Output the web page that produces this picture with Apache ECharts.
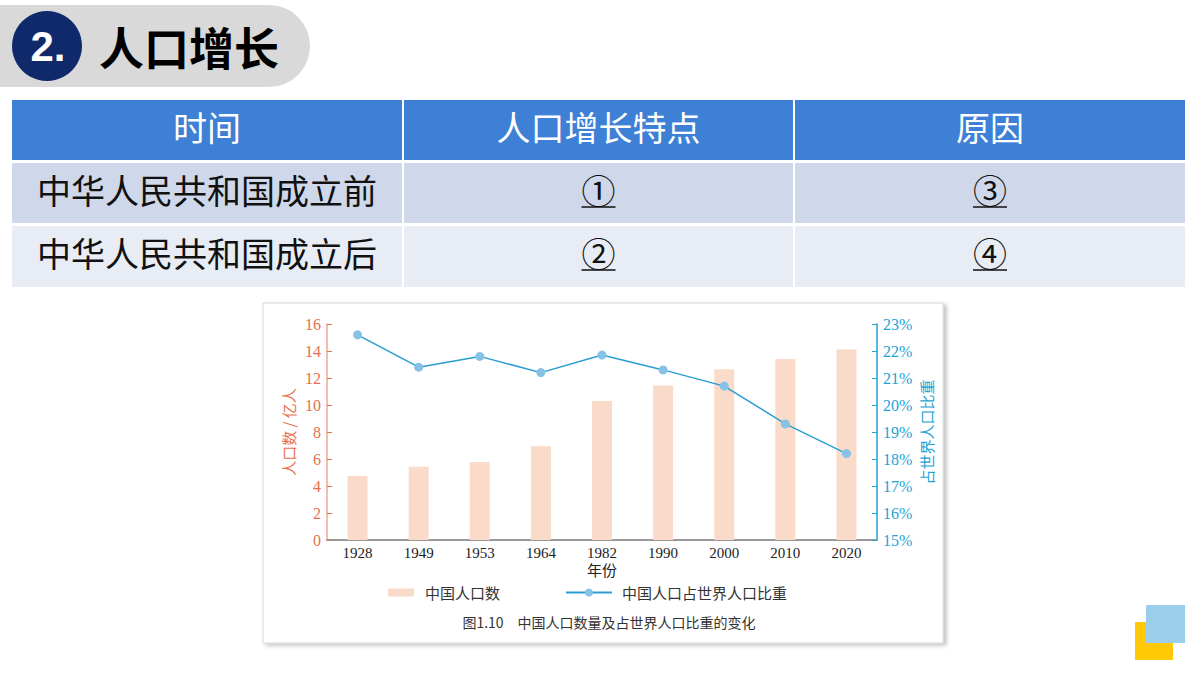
<!DOCTYPE html>
<html>
<head>
<meta charset="utf-8">
<script src="https://cdn.jsdelivr.net/npm/echarts@6/dist/echarts.min.js"></script>
<style>
html,body{margin:0;padding:0;background:#fff;}
#main{width:1200px;height:675px;}
</style>
</head>
<body>
<div id="main"></div>
<script>
// ---- data ----
var years = ['1928','1949','1953','1964','1982','1990','2000','2010','2020'];
var population = [4.75, 5.42, 5.78, 6.95, 10.3, 11.45, 12.65, 13.4, 14.12];   // 亿人
var worldShare = [22.6, 21.4, 21.8, 21.2, 21.85, 21.3, 20.7, 19.3, 18.2];      // %
var tableHeader = ['时间', '人口增长特点', '原因'];
var tableRows = [
  ['中华人民共和国成立前', '①', '③'],
  ['中华人民共和国成立后', '②', '④']
];
var titleNum = '2.';
var titleText = '人口增长';
var captionText = '图1.10　中国人口数量及占世界人口比重的变化';

var CJK = '"Noto Sans CJK SC", "Noto Sans", sans-serif';
var SERIF = '"Liberation Serif", "DejaVu Serif", serif';

// ---- layout helpers for decorative graphics ----
var cols = [[12, 402], [404, 793], [795, 1185]];
var rowsY = [[100, 60, '#3E80D6'], [163, 60, '#CFD8EB'], [226, 61, '#E8ECF5']];
var g = [];
// header pill
g.push({type:'rect', shape:{x:0, y:5, width:310, height:82, r:[0,41,41,0]}, style:{fill:'#D9D9D9'}, z:0});
g.push({type:'circle', shape:{cx:47, cy:46, r:35}, style:{fill:'#10296B'}, z:1});
g.push({type:'text', x:48, y:46, style:{text:titleNum, fill:'#fff', font:'bold 42px "Liberation Sans", Arial, sans-serif', align:'center', verticalAlign:'middle'}, z:2});
g.push({type:'text', x:99, y:46, style:{text:titleText, fill:'#000', font:'bold 45px ' + CJK, align:'left', verticalAlign:'middle'}, z:2});
// table
rowsY.forEach(function(r, ri){
  cols.forEach(function(c, ci){
    g.push({type:'rect', shape:{x:c[0], y:r[0], width:c[1]-c[0], height:r[1]}, style:{fill:r[2]}, z:0});
    var txt = ri === 0 ? tableHeader[ci] : tableRows[ri-1][ci];
    var cx = (c[0]+c[1])/2, cy = r[0] + r[1]/2 - 4;
    g.push({type:'text', x:cx, y:cy, style:{text:txt, fill: ri===0 ? '#fff' : '#111', font:'34px ' + CJK, align:'center', verticalAlign:'middle'}, z:2});
    if (ri > 0 && ci > 0) {
      g.push({type:'line', shape:{x1:cx-17, y1:r[0]+44, x2:cx+17, y2:r[0]+44}, style:{stroke:'#111', lineWidth:1.5}, z:2});
    }
  });
});
// chart panel
g.push({type:'rect', shape:{x:263, y:303, width:680, height:340}, style:{fill:'#fff', stroke:'#d8d8d8', lineWidth:1, shadowBlur:4, shadowOffsetX:3, shadowOffsetY:2, shadowColor:'rgba(0,0,0,0.25)'}, z:0});
// caption
g.push({type:'text', x:609, y:622, style:{text:captionText, fill:'#333', font:'14px ' + CJK, align:'center', verticalAlign:'middle'}, z:2});
// decoration squares
g.push({type:'rect', shape:{x:1135, y:622, width:38, height:38}, style:{fill:'#FFC907'}, z:1});
g.push({type:'rect', shape:{x:1146, y:605, width:39, height:38}, style:{fill:'#9ACFEC'}, z:2});

var chart = echarts.init(document.getElementById('main'), null, {renderer:'svg'});
chart.setOption({
  animation:false,
  backgroundColor:'#fff',
  graphic:{elements:g},
  grid:{left:327, right:323, top:324, bottom:135, containLabel:false},
  legend:[
    {data:['中国人口数'], left:383, top:580, itemWidth:26, itemHeight:8, icon:'rect',
     textStyle:{color:'#333', fontSize:15, fontFamily:CJK, padding:[0,0,0,6]}},
    {data:['中国人口占世界人口比重'], left:560, top:580, itemWidth:46, itemHeight:10,
     textStyle:{color:'#333', fontSize:15, fontFamily:CJK, padding:[0,0,0,5]}}
  ],
  xAxis:{
    type:'category', data:years,
    axisLine:{lineStyle:{color:'#999', width:2}},
    axisTick:{show:false},
    axisLabel:{color:'#222', fontSize:15, lineHeight:15, fontFamily:SERIF, margin:5},
    name:'年份', nameLocation:'middle', nameGap:22,
    nameTextStyle:{color:'#222', fontSize:15, lineHeight:15, fontFamily:CJK}
  },
  yAxis:[
    {type:'value', min:0, max:16, interval:2, position:'left',
     axisLine:{show:true, lineStyle:{color:'#F0A98C', width:1.5}},
     axisTick:{show:true, inside:true, length:5, lineStyle:{color:'#E7704E'}},
     axisLabel:{color:'#E7704E', fontSize:16, fontFamily:SERIF, margin:6},
     splitLine:{show:false},
     name:'人口数 / 亿人', nameLocation:'middle', nameGap:31, nameRotate:90,
     nameTextStyle:{color:'#E7704E', fontSize:15, fontFamily:CJK}},
    {type:'value', min:15, max:23, interval:1, position:'right',
     axisLine:{show:true, lineStyle:{color:'#21A3D6', width:1.5}},
     axisTick:{show:true, inside:true, length:5, lineStyle:{color:'#21A3D6'}},
     axisLabel:{color:'#21A3D6', fontSize:16, fontFamily:SERIF, margin:6, formatter:'{value}%'},
     splitLine:{show:false},
     name:'占世界人口比重', nameLocation:'middle', nameGap:42, nameRotate:90,
     nameTextStyle:{color:'#21A3D6', fontSize:15, fontFamily:CJK}}
  ],
  series:[
    {name:'中国人口数', type:'bar', yAxisIndex:0, data:population, barWidth:20,
     itemStyle:{color:'#FADBC9'}},
    {name:'中国人口占世界人口比重', type:'line', yAxisIndex:1, data:worldShare,
     symbol:'circle', symbolSize:9,
     lineStyle:{color:'#2A9DD2', width:1.5},
     itemStyle:{color:'#85C2E5'}}
  ]
});
</script>
</body>
</html>
